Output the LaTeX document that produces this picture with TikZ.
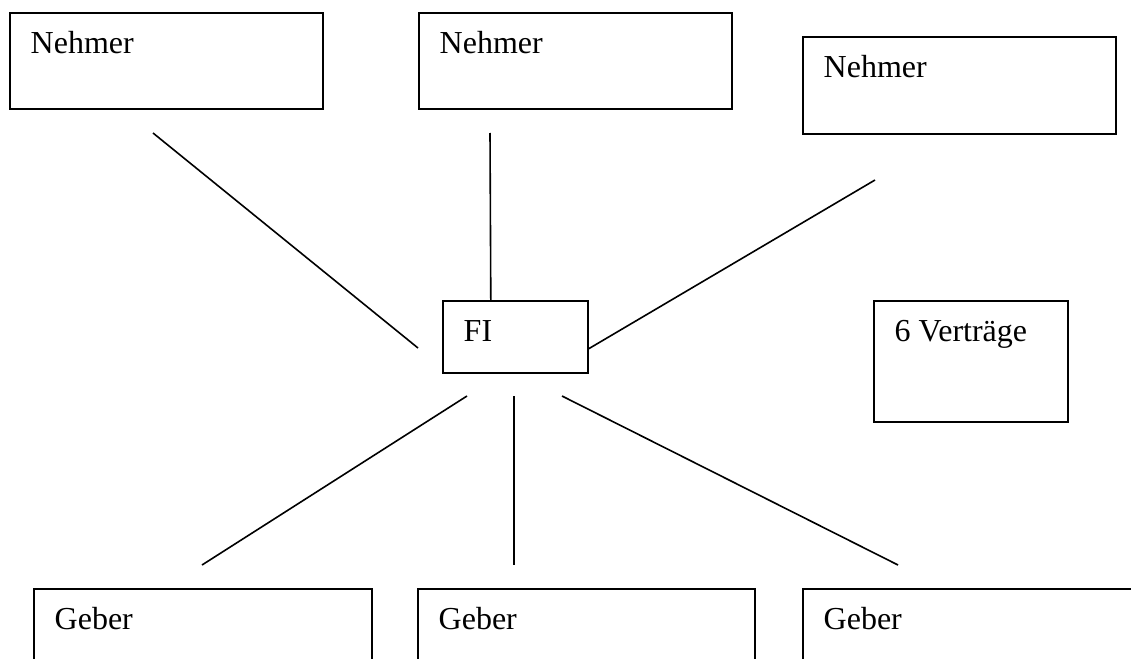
\documentclass[tikz,border=0pt]{standalone}
\usepackage{fontspec}
\setmainfont{Liberation Serif}
\usetikzlibrary{positioning}

\begin{document}
\begin{tikzpicture}[
x=1pt, y=-1pt,
feld/.style={rectangle, draw, line width=1.6pt, anchor=north west, inner sep=0pt},
beschr/.style={label={[anchor=base west, inner sep=0pt, xshift=21.5pt, yshift=-41.5pt, font=\fontsize{32}{38}\selectfont]north west:#1}},
verb/.style={line width=1.6pt},
]
\useasboundingbox (0,0) rectangle (1131,658);
\clip (0,0) rectangle (1131,658);

%Nodes
\node[feld, beschr=Nehmer, minimum width=313pt, minimum height=96pt] (nehmer1) at (9,12) {};
\node[feld, beschr=Nehmer, minimum width=313pt, minimum height=96pt] (nehmer2) at (418,12) {};
\node[feld, beschr=Nehmer, minimum width=313pt, minimum height=97pt] (nehmer3) at (802,36) {};
\node[feld, beschr=FI, minimum width=145pt, minimum height=72pt] (fi) at (442,300) {};
\node[feld, beschr=6 Verträge, minimum width=194pt, minimum height=121pt] (vertraege) at (873,300) {};
\node[feld, beschr=Geber, minimum width=338pt, minimum height=100pt] (geber1) at (33,588) {};
\node[feld, beschr=Geber, minimum width=337pt, minimum height=100pt] (geber2) at (417,588) {};
\node[feld, beschr=Geber, minimum width=338pt, minimum height=100pt] (geber3) at (802,588) {};

%free line ends
\coordinate (o1) at (153,133);
\coordinate (m1) at (418,348);
\coordinate (o2) at (490,133);
\coordinate (o3) at (875,180);
\coordinate (f1) at (467,396);
\coordinate (f2) at (514,396);
\coordinate (f3) at (562,396);
\coordinate (u1) at (202,565);
\coordinate (u2) at (514,565);
\coordinate (u3) at (898,565);

%Lines
\draw[verb] (o1) -- (m1);
\draw[verb] (o2) -- ([xshift=-24.5pt]fi.north);
\draw[verb] (o3) -- ([yshift=-12pt]fi.east);
\draw[verb] (f1) -- (u1);
\draw[verb] (f2) -- (u2);
\draw[verb] (f3) -- (u3);
\end{tikzpicture}
\end{document}
